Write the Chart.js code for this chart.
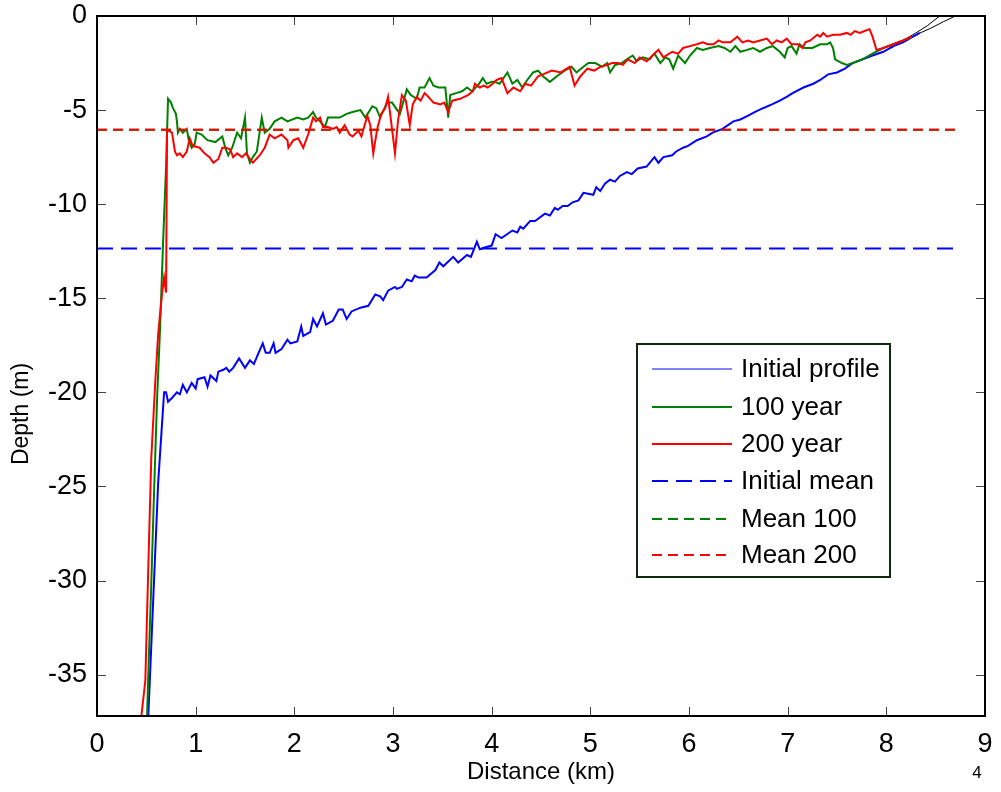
<!DOCTYPE html>
<html>
<head>
<meta charset="utf-8">
<title>Depth profile</title>
<script src="https://cdn.jsdelivr.net/npm/chart.js@4.4.1/dist/chart.umd.min.js"></script>
<style>
  html, body { margin: 0; padding: 0; background: #fff; }
  #profileChart { display: block; }
</style>
</head>
<body>
<canvas id="profileChart" width="1001" height="792"></canvas>
<script>
// Axis ticks
const xTicks = [0, 1, 2, 3, 4, 5, 6, 7, 8, 9];
const yTicks = [-35, -30, -25, -20, -15, -10, -5, 0];

// Series: [distance (km), depth (m)]
const initialProfile = [
  [0.50,-38.5],[0.52,-37.2],[0.57,-31],[0.62,-24.8],[0.68,-20.0],[0.70,-20.0],[0.72,-20.5],[0.76,-20.3],
  [0.81,-20.0],[0.84,-20.1],[0.87,-19.6],[0.91,-20.0],[0.96,-19.5],[1.00,-19.8],[1.02,-19.3],[1.09,-19.2],
  [1.12,-19.7],[1.15,-19.1],[1.21,-19.4],[1.23,-18.9],[1.28,-18.8],[1.31,-18.7],[1.34,-18.9],[1.38,-18.7],
  [1.44,-18.2],[1.50,-18.7],[1.55,-18.3],[1.59,-18.5],[1.63,-18.0],[1.68,-17.4],[1.71,-17.9],[1.75,-17.9],
  [1.79,-17.4],[1.81,-17.9],[1.87,-17.7],[1.93,-17.2],[1.96,-17.4],[2.03,-17.3],[2.07,-16.5],[2.09,-17.0],
  [2.16,-16.8],[2.19,-16.1],[2.23,-16.5],[2.29,-15.8],[2.32,-16.4],[2.39,-16.2],[2.45,-15.6],[2.49,-15.6],
  [2.53,-16.1],[2.58,-15.7],[2.67,-15.5],[2.75,-15.4],[2.82,-14.8],[2.87,-14.9],[2.90,-15.1],[2.95,-14.6],
  [3.02,-14.4],[3.04,-14.5],[3.09,-14.4],[3.14,-14.0],[3.19,-14.1],[3.22,-13.8],[3.26,-13.9],[3.34,-13.9],
  [3.43,-13.5],[3.47,-13.1],[3.51,-13.3],[3.61,-12.8],[3.66,-13.1],[3.75,-12.7],[3.79,-12.8],[3.85,-12.0],
  [3.88,-12.4],[3.93,-12.3],[4.00,-12.2],[4.04,-11.6],[4.10,-11.8],[4.21,-11.4],[4.26,-11.5],[4.29,-11.2],
  [4.32,-11.3],[4.39,-10.9],[4.44,-10.9],[4.54,-10.5],[4.59,-10.6],[4.64,-10.2],[4.67,-10.3],[4.72,-10.1],
  [4.77,-10.1],[4.82,-9.9],[4.88,-9.8],[4.93,-9.4],[5.03,-9.5],[5.06,-9.1],[5.10,-9.3],[5.15,-8.9],
  [5.20,-8.7],[5.25,-8.8],[5.30,-8.5],[5.37,-8.3],[5.42,-8.4],[5.48,-8.1],[5.57,-8.0],[5.65,-7.5],
  [5.69,-7.8],[5.74,-7.5],[5.83,-7.4],[5.87,-7.2],[5.94,-7.0],[5.99,-6.9],[6.08,-6.6],[6.18,-6.4],
  [6.24,-6.2],[6.34,-6.0],[6.45,-5.6],[6.52,-5.5],[6.60,-5.3],[6.67,-5.1],[6.75,-4.9],[6.84,-4.7],
  [6.92,-4.5],[6.99,-4.3],[7.05,-4.1],[7.16,-3.8],[7.26,-3.6],[7.33,-3.4],[7.41,-3.1],[7.50,-3.0],
  [7.58,-2.8],[7.66,-2.5],[7.76,-2.3],[7.86,-2.1],[7.97,-1.9],[8.07,-1.6],[8.17,-1.4],[8.27,-1.1],
  [8.34,-0.9]
];

const year100 = [
  [0.50,-38.5],[0.52,-35],[0.55,-30.2],[0.58,-25],[0.61,-20.2],[0.64,-16.5],[0.67,-12],[0.70,-8],
  [0.72,-4.4],[0.75,-4.6],[0.77,-4.9],[0.80,-5.2],[0.81,-5.6],[0.82,-6.2],[0.84,-6.0],[0.87,-6.2],
  [0.91,-6.0],[0.93,-6.6],[0.96,-7.0],[0.99,-6.8],[1.01,-6.2],[1.06,-6.3],[1.12,-6.6],[1.20,-6.7],
  [1.27,-6.4],[1.30,-7.0],[1.33,-7.4],[1.37,-7.0],[1.42,-6.2],[1.46,-6.5],[1.50,-5.4],[1.52,-7.3],
  [1.55,-7.8],[1.58,-7.5],[1.62,-7.2],[1.67,-5.4],[1.70,-6.2],[1.75,-6.0],[1.80,-5.6],[1.87,-5.4],
  [1.93,-5.6],[2.03,-5.4],[2.09,-5.5],[2.14,-5.4],[2.19,-5.1],[2.22,-5.4],[2.26,-5.6],[2.31,-5.9],
  [2.34,-5.4],[2.46,-5.4],[2.53,-5.2],[2.59,-5.1],[2.67,-5.0],[2.72,-5.4],[2.79,-4.8],[2.83,-4.9],
  [2.87,-5.4],[2.94,-4.6],[2.99,-4.6],[3.07,-5.2],[3.14,-3.9],[3.18,-4.2],[3.24,-4.4],[3.27,-3.8],
  [3.32,-3.8],[3.37,-3.3],[3.41,-3.7],[3.46,-3.8],[3.53,-3.8],[3.56,-5.4],[3.58,-4.2],[3.64,-4.1],
  [3.70,-4.0],[3.75,-3.8],[3.80,-4.0],[3.86,-3.7],[3.91,-3.3],[3.95,-3.6],[4.00,-3.5],[4.03,-3.5],
  [4.08,-3.6],[4.16,-3.0],[4.21,-3.6],[4.26,-3.4],[4.31,-3.8],[4.36,-3.4],[4.42,-3.0],[4.47,-2.9],
  [4.52,-3.2],[4.59,-3.5],[4.66,-3.2],[4.74,-2.9],[4.81,-2.7],[4.86,-3.0],[4.93,-2.7],[4.98,-2.5],
  [5.05,-2.5],[5.12,-2.7],[5.17,-2.5],[5.20,-3.0],[5.25,-2.6],[5.32,-2.5],[5.37,-2.3],[5.43,-2.1],
  [5.47,-2.4],[5.53,-2.2],[5.60,-2.3],[5.65,-2.0],[5.71,-2.5],[5.76,-2.2],[5.80,-2.3],[5.84,-2.8],
  [5.89,-2.1],[5.96,-2.5],[6.01,-2.1],[6.08,-1.7],[6.14,-1.8],[6.21,-1.7],[6.30,-1.6],[6.36,-1.7],
  [6.42,-1.9],[6.47,-1.6],[6.52,-1.9],[6.59,-1.8],[6.65,-1.7],[6.72,-1.9],[6.79,-1.7],[6.85,-1.6],
  [6.92,-1.9],[6.97,-2.2],[7.00,-1.7],[7.04,-1.6],[7.09,-2.0],[7.12,-1.5],[7.17,-1.7],[7.25,-1.7],
  [7.33,-1.5],[7.40,-1.5],[7.43,-1.4],[7.46,-1.7],[7.48,-2.3],[7.55,-2.5],[7.60,-2.6],[7.66,-2.5],
  [7.76,-2.3],[7.86,-2.0],[7.97,-1.7],[8.07,-1.5],[8.17,-1.3],[8.26,-1.1]
];

const year200 = [
  [0.43,-38.5],[0.45,-37.2],[0.49,-35.3],[0.52,-29.3],[0.55,-23.5],[0.59,-19.5],[0.62,-16.9],[0.66,-14.7],
  [0.68,-13.9],[0.70,-14.7],[0.71,-6.05],[0.76,-6.2],[0.79,-7.2],[0.81,-7.4],[0.84,-7.3],[0.87,-7.5],
  [0.91,-7.2],[0.94,-6.5],[0.97,-6.9],[1.04,-7.0],[1.09,-7.3],[1.14,-7.5],[1.18,-7.8],[1.23,-7.6],
  [1.27,-7.0],[1.31,-7.0],[1.35,-7.1],[1.38,-7.5],[1.42,-7.3],[1.47,-7.5],[1.51,-7.3],[1.55,-7.6],
  [1.58,-7.8],[1.65,-7.4],[1.70,-7.0],[1.75,-6.3],[1.80,-6.5],[1.87,-6.3],[1.93,-6.6],[1.94,-7.0],
  [1.99,-6.6],[2.04,-6.5],[2.09,-7.0],[2.14,-6.3],[2.19,-5.4],[2.22,-5.6],[2.26,-5.4],[2.29,-5.9],
  [2.34,-5.9],[2.39,-6.0],[2.43,-5.9],[2.46,-6.2],[2.51,-5.8],[2.56,-6.3],[2.59,-6.4],[2.65,-6.1],
  [2.68,-6.4],[2.74,-5.3],[2.77,-5.8],[2.80,-7.3],[2.84,-6.0],[2.88,-5.2],[2.92,-4.9],[2.95,-4.3],
  [2.99,-6.0],[3.02,-7.3],[3.05,-5.6],[3.09,-4.2],[3.13,-4.5],[3.17,-5.8],[3.20,-4.7],[3.24,-4.3],
  [3.28,-4.5],[3.32,-4.1],[3.36,-4.3],[3.41,-4.6],[3.48,-4.7],[3.52,-4.6],[3.56,-5.1],[3.60,-4.5],
  [3.68,-4.4],[3.76,-4.2],[3.81,-4.0],[3.83,-3.6],[3.88,-3.8],[3.92,-3.7],[3.96,-3.8],[4.01,-3.6],
  [4.05,-3.4],[4.10,-3.3],[4.16,-4.1],[4.22,-3.8],[4.29,-4.0],[4.34,-3.6],[4.40,-3.7],[4.47,-3.2],
  [4.52,-3.1],[4.61,-2.9],[4.70,-3.0],[4.79,-2.7],[4.84,-3.7],[4.90,-3.2],[4.97,-2.8],[5.04,-2.9],
  [5.10,-2.7],[5.17,-2.6],[5.22,-2.5],[5.28,-2.5],[5.33,-2.6],[5.38,-2.3],[5.45,-2.5],[5.50,-2.2],
  [5.57,-2.4],[5.63,-2.1],[5.69,-1.8],[5.74,-2.2],[5.83,-1.9],[5.89,-2.0],[5.94,-1.7],[6.01,-1.6],
  [6.08,-1.5],[6.14,-1.4],[6.19,-1.5],[6.25,-1.5],[6.30,-1.3],[6.34,-1.4],[6.42,-1.4],[6.49,-1.1],
  [6.54,-1.4],[6.60,-1.3],[6.65,-1.4],[6.72,-1.3],[6.79,-1.2],[6.84,-1.5],[6.89,-1.3],[6.94,-1.4],
  [6.99,-1.2],[7.04,-1.5],[7.10,-1.5],[7.15,-1.7],[7.18,-1.4],[7.23,-1.3],[7.30,-1.0],[7.33,-1.1],
  [7.36,-0.9],[7.40,-1.1],[7.46,-1.0],[7.53,-1.0],[7.60,-0.9],[7.64,-1.0],[7.68,-0.8],[7.73,-0.9],
  [7.78,-0.8],[7.83,-0.7],[7.86,-1.1],[7.90,-1.8],[7.97,-1.7],[8.07,-1.5],[8.17,-1.3],[8.26,-1.1]
];

// thin black shoreline traces at the right end
const shoreA = [[8.05,-1.7],[8.20,-1.2],[8.30,-0.9],[8.42,-0.5],[8.54,0]];
const shoreB = [[8.15,-1.4],[8.30,-1.0],[8.45,-0.65],[8.58,-0.3],[8.70,0]];

// mean depths and their x extent
const meanX = [0, 8.7];
const initialMean = -12.35;
const mean100 = -6.05;
const mean200 = -6.05;

const toPts = arr => arr.map(p => ({ x: p[0], y: p[1] }));
const flat = v => meanX.map(x => ({ x: x, y: v }));

const FONT = 'Liberation Sans, Arial, Helvetica, sans-serif';

// MATLAB style box with inward ticks, y title and exponent
const boxPlugin = {
  id: 'boxTicks',
  afterDraw(chart) {
    const { ctx, chartArea: a, scales } = chart;
    const len = 9;
    ctx.save();
    ctx.strokeStyle = '#444';
    ctx.lineWidth = 1;
    ctx.beginPath();
    xTicks.forEach(v => {
      const px = Math.round(scales.x.getPixelForValue(v)) + 0.5;
      ctx.moveTo(px, a.bottom); ctx.lineTo(px, a.bottom - len);
      ctx.moveTo(px, a.top); ctx.lineTo(px, a.top + len);
    });
    yTicks.forEach(v => {
      const py = Math.round(scales.y.getPixelForValue(v)) + 0.5;
      ctx.moveTo(a.left, py); ctx.lineTo(a.left + len, py);
      ctx.moveTo(a.right, py); ctx.lineTo(a.right - len, py);
    });
    ctx.stroke();
    ctx.strokeStyle = '#000';
    ctx.lineWidth = 2;
    ctx.strokeRect(a.left, a.top, a.right - a.left, a.bottom - a.top);

    ctx.fillStyle = '#000';
    ctx.textAlign = 'center';
    ctx.textBaseline = 'middle';
    ctx.font = '17px ' + FONT;
    ctx.fillText('4', 977, 773);

    ctx.translate(22, 414);
    ctx.rotate(-Math.PI / 2);
    ctx.font = '23px ' + FONT;
    ctx.fillText('Depth (m)', 0, 0);
    ctx.restore();
  }
};

// legend box inside the plot
const legendPlugin = {
  id: 'boxLegend',
  afterDraw(chart) {
    const { ctx } = chart;
    const box = { x: 637, y: 344, w: 253, h: 233 };
    const rows = [369, 407, 444, 481, 519, 555];
    ctx.save();
    ctx.fillStyle = '#fff';
    ctx.fillRect(box.x, box.y, box.w, box.h);
    ctx.strokeStyle = '#0f2a0f';
    ctx.lineWidth = 2;
    ctx.strokeRect(box.x, box.y, box.w, box.h);
    ctx.font = '26px ' + FONT;
    ctx.textBaseline = 'middle';
    ctx.textAlign = 'left';
    chart.data.datasets.filter(d => d.inLegend).forEach((d, i) => {
      const y = rows[i];
      ctx.strokeStyle = d.legendColor || d.borderColor;
      ctx.lineWidth = d.legendWidth || d.borderWidth;
      ctx.setLineDash(d.borderDash || []);
      ctx.beginPath();
      ctx.moveTo(652, y);
      ctx.lineTo(732, y);
      ctx.stroke();
      ctx.setLineDash([]);
      ctx.fillStyle = '#000';
      ctx.fillText(d.label, 741, rows[i] + 1);
    });
    ctx.restore();
  }
};

const ctx = document.getElementById('profileChart').getContext('2d');
const profileChart = new Chart(ctx, {
  type: 'line',
  data: {
    datasets: [
      { label: 'Initial profile', data: toPts(initialProfile), borderColor: '#0000ff', borderWidth: 2,
        legendWidth: 1.5, legendColor: '#5a5aff', inLegend: true, order: 6 },
      { label: '100 year', data: toPts(year100), borderColor: '#008000', borderWidth: 2, inLegend: true, order: 5 },
      { label: '200 year', data: toPts(year200), borderColor: '#ff0000', borderWidth: 2, inLegend: true, order: 4 },
      { label: 'Initial mean', data: flat(initialMean), borderColor: '#0000ff', borderWidth: 2,
        borderDash: [16, 8], inLegend: true, order: 3 },
      { label: 'Mean 100', data: flat(mean100), borderColor: '#008000', borderWidth: 2,
        borderDash: [10, 6], inLegend: true, order: 2 },
      { label: 'Mean 200', data: flat(mean200), borderColor: '#ff0000', borderWidth: 2,
        borderDash: [10, 6], inLegend: true, order: 1 },
      { label: 'shore a', data: toPts(shoreA), borderColor: '#000', borderWidth: 1, order: 7 },
      { label: 'shore b', data: toPts(shoreB), borderColor: '#000', borderWidth: 1, order: 7 }
    ]
  },
  options: {
    responsive: false,
    animation: false,
    events: [],
    elements: { point: { radius: 0 }, line: { tension: 0 } },
    layout: { padding: { top: 16, right: 16, left: 0, bottom: 0 } },
    plugins: { legend: { display: false }, tooltip: { enabled: false } },
    scales: {
      x: {
        type: 'linear',
        min: 0,
        max: 9,
        afterBuildTicks: s => { s.ticks = xTicks.map(v => ({ value: v })); },
        afterFit: s => { s.height = 76; s.paddingLeft = 0; s.paddingRight = 0; },
        grid: { display: false, drawTicks: false },
        border: { display: false },
        ticks: { color: '#000', font: { family: FONT, size: 27 }, padding: 12, maxRotation: 0 },
        title: { display: true, text: 'Distance (km)', color: '#000',
                 font: { family: FONT, size: 24 }, padding: { top: 0, bottom: 5 } }
      },
      y: {
        type: 'linear',
        min: -37.2,
        max: 0,
        afterBuildTicks: s => { s.ticks = yTicks.map(v => ({ value: v })); },
        afterFit: s => { s.width = 97; s.paddingTop = 0; s.paddingBottom = 0; },
        grid: { display: false, drawTicks: false },
        border: { display: false },
        ticks: { color: '#000', font: { family: FONT, size: 27 }, padding: 10 }
      }
    }
  },
  plugins: [boxPlugin, legendPlugin]
});
</script>
</body>
</html>
